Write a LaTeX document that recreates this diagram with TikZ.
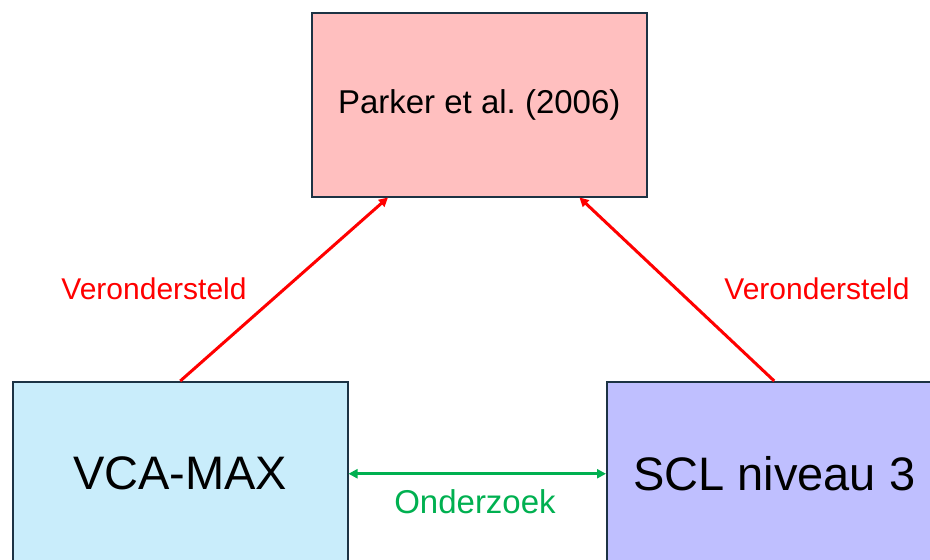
\documentclass[tikz,border=0pt]{standalone}
\usepackage{fontspec}
\setmainfont{Liberation Sans}
\usetikzlibrary{arrows.meta}
\frenchspacing
\definecolor{boxline}{HTML}{1C3344}
\definecolor{pinkfill}{HTML}{FFBFBF}
\definecolor{bluefill}{HTML}{C9EDFB}
\definecolor{lavfill}{HTML}{BFBFFF}
\definecolor{arrred}{HTML}{FF0000}
\definecolor{arrgreen}{HTML}{00B050}
\tikzset{
  box/.style={draw=boxline, line width=1.5pt, minimum width=335pt, minimum height=184pt,
              inner sep=0pt, anchor=north west},
  redarrow/.style={draw=arrred, line width=3pt, -{Triangle[length=9pt,width=9pt]}},
  greenarrow/.style={draw=arrgreen, line width=3pt,
              {Triangle[length=9pt,width=9pt]}-{Triangle[length=9pt,width=9pt]}},
  redlabel/.style={text=arrred, font=\fontsize{30}{36}\selectfont},
  greenlabel/.style={text=arrgreen, font=\fontsize{33}{40}\selectfont}
}
\begin{document}
\begin{tikzpicture}[x=1pt, y=-1pt]
  \useasboundingbox (0,0) rectangle (930,560);
  \begin{scope}
    \clip (0,0) rectangle (930,560);
    \node[box, fill=pinkfill, font=\fontsize{33}{40}\selectfont] (parker) at (311,12) {Parker et al.\ (2006)};
    \node[box, fill=bluefill, font=\fontsize{47}{56}\selectfont] (vca) at (12,381) {VCA-MAX};
    \node[box, fill=lavfill, font=\fontsize{47}{56}\selectfont] (scl) at (606,381) {SCL niveau 3};

    \draw[redarrow] (vca.north) -- ([xshift=77pt]parker.south west);
    \draw[redarrow] (scl.north) -- ([xshift=-68pt]parker.south east);
    \draw[greenarrow] (vca.east) -- (scl.west);

    \node[redlabel] (lblleft) at (154,289) {Verondersteld};
    \node[redlabel] (lblright) at (817,289) {Verondersteld};
    \node[greenlabel] (lblmid) at (475,502) {Onderzoek};
  \end{scope}
\end{tikzpicture}
\end{document}
